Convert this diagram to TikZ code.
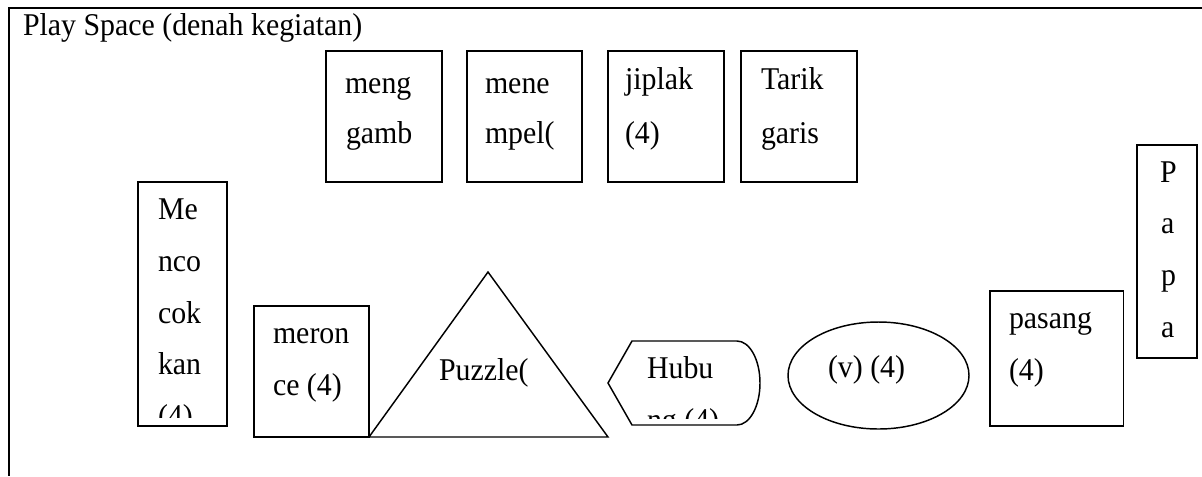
\documentclass[tikz,border=0pt]{standalone}
\usepackage{fontspec}
\usepackage{graphicx}
\setmainfont{Liberation Serif}
\usetikzlibrary{fit,shapes.geometric}
\newcommand{\tx}[1]{\scalebox{1}[1.06]{#1}}
\begin{document}
\begin{tikzpicture}[x=0.75pt,y=-0.75pt,
  font=\fontsize{22.4pt}{26pt}\selectfont,
  box/.style={draw,line width=1.3pt,inner sep=0pt,outer sep=0pt},
  txt/.style={anchor=base west,inner sep=0pt,outer sep=0pt},
  shp/.style={draw,line width=1.1pt,line join=miter}]
\useasboundingbox (0,0) rectangle (1202,476);
% frame
\coordinate (fr1) at (1202,8);
\coordinate (fr2) at (9,8);
\coordinate (fr3) at (9,476);
\draw[line width=1.6pt] (fr1) -- (fr2) -- (fr3);
\node[txt] (title) at (23,35.5) {\tx{Play Space (denah kegiatan)}};
% top boxes
\node[box,fit={(326,51) (442,182)}] (b1) {};
\node[box,fit={(467,51) (582,182)}] (b2) {};
\node[box,fit={(608,51) (724,182)}] (b3) {};
\node[box,fit={(741,51) (857,182)}] (b4) {};
\node[txt] (b1a) at (345,93) {\tx{meng}};
\node[txt] (b1b) at (346,143) {\tx{gamb}};
\node[txt] (b2a) at (485,93) {\tx{mene}};
\node[txt] (b2b) at (485,143) {\tx{mpel(}};
\node[txt] (b3a) at (625,89) {\tx{jiplak}};
\node[txt] (b3b) at (625,143) {\tx{(4)}};
\node[txt] (b4a) at (761,89) {\tx{Tarik}};
\node[txt] (b4b) at (761,143) {\tx{garis}};
% Mencocokkan
\node[box,fit={(138,182) (227,426)}] (mc) {};
\node[txt] (mc1) at (158,219) {\tx{Me}};
\node[txt] (mc2) at (158,271) {\tx{nco}};
\node[txt] (mc3) at (158,323) {\tx{cok}};
\node[txt] (mc4) at (158,374) {\tx{kan}};
\begin{scope}
\clip (138,182) rectangle (227,417);
\node[txt] (mc5) at (158,426) {\tx{(4)}};
\end{scope}
% meronce
\node[box,fit={(254,306) (369,437)}] (mr) {};
\node[txt] (mr1) at (273,343) {\tx{meron}};
\node[txt] (mr2) at (273,395) {\tx{ce (4)}};
% triangle
\coordinate (t1) at (369,437);
\coordinate (t2) at (608,437);
\coordinate (t3) at (488,272);
\draw[shp] (t1) -- (t2) -- (t3) -- cycle;
\node[txt] (pz) at (439,380) {\tx{Puzzle(}};
% display shape
\coordinate (d1) at (608,383);
\coordinate (d2) at (632,341);
\coordinate (d3) at (737,341);
\coordinate (d4) at (760,383);
\coordinate (d5) at (737,425);
\coordinate (d6) at (632,425);
\draw[shp] (d1) -- (d2) -- (d3) .. controls (749.7,341) and (760,359.8) .. (d4)
  .. controls (760,406.2) and (749.7,425) .. (d5) -- (d6) -- cycle;
\node[txt] (hb1) at (647,378) {\tx{Hubu}};
\begin{scope}
\clip (632,341) rectangle (760,418);
\node[txt] (hb2) at (647,430) {\tx{ng (4)}};
\end{scope}
% ellipse
\node[draw,ellipse,line width=1.1pt,inner sep=0pt,minimum width=135.75pt,minimum height=80.25pt] (el) at (878.5,375.5) {};
\node[txt] (elt) at (828,377) {\tx{(v) (4)}};
% pasang
\node[box,fit={(990,291) (1123.5,426)}] (ps) {};
\node[txt] (ps1) at (1009,328) {\tx{pasang}};
\node[txt] (ps2) at (1009,380) {\tx{(4)}};
% Papa
\node[box,fit={(1137,145) (1197,358)}] (pp) {};
\node[txt] (pp1) at (1160,182) {\tx{P}};
\node[txt] (pp2) at (1161,233) {\tx{a}};
\node[txt] (pp3) at (1161,285) {\tx{p}};
\node[txt] (pp4) at (1161,337) {\tx{a}};
\end{tikzpicture}
\end{document}
